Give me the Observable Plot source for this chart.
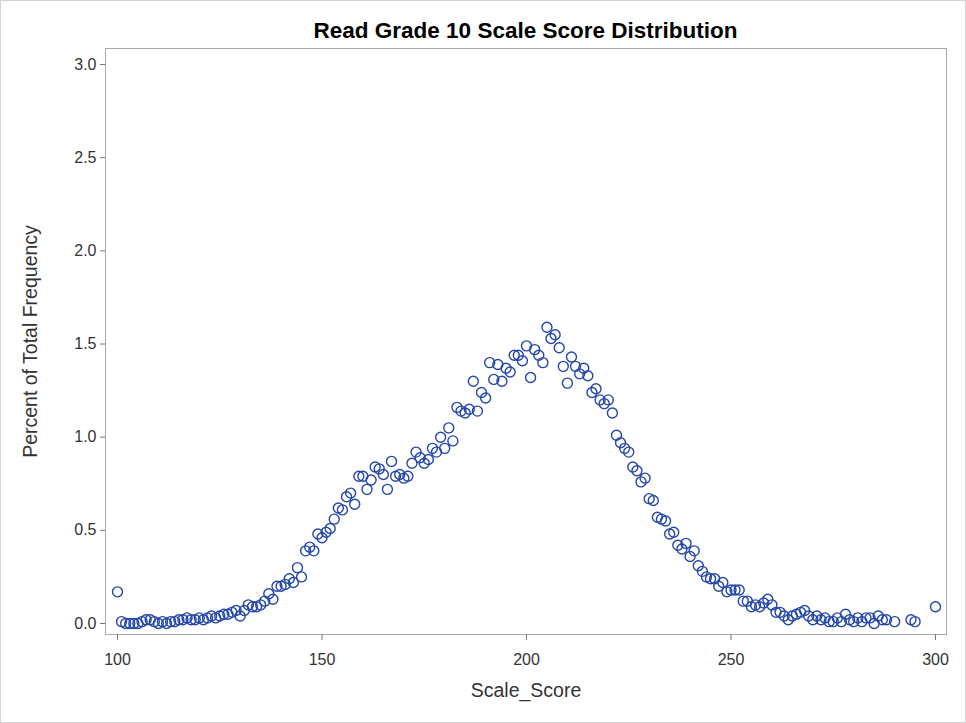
<!DOCTYPE html>
<html>
<head>
<meta charset="utf-8">
<script src="https://cdn.jsdelivr.net/npm/d3@7"></script>
<script src="https://cdn.jsdelivr.net/npm/@observablehq/plot@0.6"></script>
<style>
  html, body { margin: 0; padding: 0; background: #fff; }
  #wrap { position: relative; width: 966px; height: 723px; overflow: hidden; font-family: "Liberation Sans", Arial, sans-serif; }
  #title { height: 44px; width: 966px; position: relative; }
  #title span { position: absolute; left: 105px; width: 841px; top: 18px; text-align: center; font-weight: bold; font-size: 22.5px; color: #000; }
  #border { position: absolute; left: 0; top: 0; width: 964px; height: 721px; border: 1px solid #d4d4d4; pointer-events: none; }
  svg { display: block; }
</style>
</head>
<body>
<div id="wrap">
  <div id="title"><span>Read Grade 10 Scale Score Distribution</span></div>
  <div id="chart"></div>
  <div id="border"></div>
</div>
<script>
const scaleScore = [
  100,101,102,103,104,105,106,107,108,109,110,111,112,113,114,115,116,117,118,119,
  120,121,122,123,124,125,126,127,128,129,130,131,132,133,134,135,136,137,138,139,
  140,141,142,143,144,145,146,147,148,149,150,151,152,153,154,155,156,157,158,159,
  160,161,162,163,164,165,166,167,168,169,170,171,172,173,174,175,176,177,178,179,
  180,181,182,183,184,185,186,187,188,189,190,191,192,193,194,195,196,197,198,199,
  200,201,202,203,204,205,206,207,208,209,210,211,212,213,214,215,216,217,218,219,
  220,221,222,223,224,225,226,227,228,229,230,231,232,233,234,235,236,237,238,239,
  240,241,242,243,244,245,246,247,248,249,250,251,252,253,254,255,256,257,258,259,
  260,261,262,263,264,265,266,267,268,269,270,271,272,273,274,275,276,277,278,279,
  280,281,282,283,284,285,286,287,288,290,294,295,300
];
const percentFreq = [
  0.17,0.01,0.00,0.00,0.00,0.00,0.01,0.02,0.02,0.01,0.00,0.01,0.00,0.01,0.01,0.02,0.02,0.03,0.02,0.02,
  0.03,0.02,0.03,0.04,0.03,0.04,0.05,0.05,0.06,0.07,0.04,0.07,0.10,0.09,0.09,0.10,0.12,0.16,0.13,0.20,
  0.20,0.21,0.24,0.22,0.30,0.25,0.39,0.41,0.39,0.48,0.46,0.49,0.51,0.56,0.62,0.61,0.68,0.70,0.64,0.79,
  0.79,0.72,0.77,0.84,0.83,0.80,0.72,0.87,0.79,0.80,0.78,0.79,0.86,0.92,0.89,0.86,0.88,0.94,0.92,1.00,
  0.94,1.05,0.98,1.16,1.14,1.13,1.15,1.30,1.14,1.24,1.21,1.40,1.31,1.39,1.30,1.37,1.35,1.44,1.44,1.41,
  1.49,1.32,1.47,1.44,1.40,1.59,1.53,1.55,1.48,1.38,1.29,1.43,1.38,1.34,1.37,1.33,1.24,1.26,1.20,1.18,
  1.20,1.13,1.01,0.97,0.94,0.92,0.84,0.82,0.76,0.78,0.67,0.66,0.57,0.56,0.55,0.48,0.49,0.42,0.40,0.43,
  0.36,0.39,0.31,0.28,0.25,0.24,0.24,0.20,0.22,0.17,0.18,0.18,0.18,0.12,0.12,0.09,0.10,0.09,0.11,0.13,
  0.10,0.06,0.06,0.04,0.02,0.04,0.05,0.06,0.07,0.04,0.02,0.04,0.02,0.03,0.01,0.01,0.03,0.01,0.05,0.02,
  0.01,0.03,0.01,0.03,0.03,0.00,0.04,0.02,0.02,0.01,0.02,0.01,0.09
];
const xTicks = [100, 150, 200, 250, 300];
const yTicks = [0, 0.5, 1.0, 1.5, 2.0, 2.5, 3.0];

const data = scaleScore.map((s, i) => ({Scale_Score: s, Percent: percentFreq[i]}));

const chart = Plot.plot({
  width: 966,
  height: 679,
  marginTop: 4,
  marginBottom: 89,
  marginLeft: 105,
  marginRight: 20,
  style: {fontFamily: "'Liberation Sans', Arial, sans-serif", fontSize: "16px", color: "#333", background: "#fff"},
  x: {domain: [97.07, 302.69]},
  y: {domain: [-0.059, 3.086]},
  marks: [
    Plot.frame({stroke: "#a8a8a8"}),
    Plot.axisX({ticks: xTicks, tickSize: 6, tickPadding: 13, stroke: "#777", fill: "#333", fontSize: 16,
      tickFormat: d3.format("d"), label: null}),
    Plot.axisY({ticks: yTicks, tickSize: 5, tickPadding: 4, tickFormat: d3.format(".1f"), stroke: "#777", fill: "#333", fontSize: 16,
      label: null}),
    Plot.axisX({ticks: [], tickSize: 0, label: "Scale_Score", labelAnchor: "center", labelArrow: "none", labelOffset: 62, fontSize: 19.5, fill: "#333"}),
    Plot.axisY({ticks: [], tickSize: 0, label: "Percent of Total Frequency", labelAnchor: "center", labelArrow: "none", labelOffset: 82, fontSize: 19.5, fill: "#333"}),
    Plot.dot(data, {x: "Scale_Score", y: "Percent", r: 5, stroke: "#2346a8", strokeWidth: 1.4, fill: "none"})
  ]
});
document.getElementById("chart").appendChild(chart);
</script>
</body>
</html>
